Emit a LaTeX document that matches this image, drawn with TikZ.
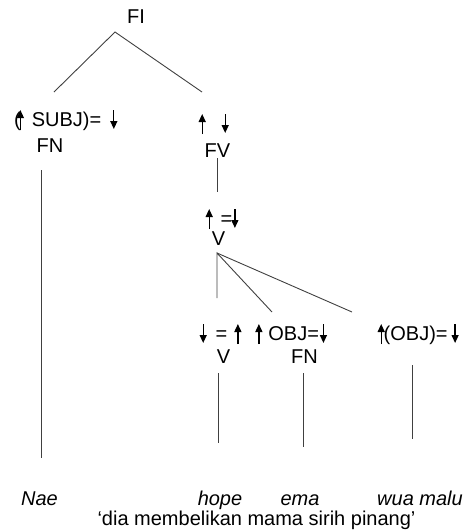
\documentclass[tikz,border=0pt]{standalone}
\usepackage{fontspec}
\setmainfont{Liberation Sans}
\usetikzlibrary{arrows.meta}
\newcommand{\ua}{\tikz[baseline=0pt]\draw[line width=1.3pt,-{Triangle[length=8pt,width=7pt]}] (0pt,-4pt) -- (0pt,16pt);}
\newcommand{\da}{\tikz[baseline=0pt]\draw[line width=1.3pt,-{Triangle[length=8pt,width=7pt]}] (0pt,16pt) -- (0pt,-3pt);}
\tikzset{
  lbl/.style={inner sep=0pt, font=\fontsize{20}{22}\selectfont},
  word/.style={inner sep=0pt, text height=14pt, text depth=3pt, font=\fontsize{20}{22}\selectfont\itshape},
  glossst/.style={inner sep=0pt, text height=13pt, text depth=4pt, font=\fontsize{20}{22}\selectfont},
  branch/.style={draw=black!75, line width=0.9pt},
}
\begin{document}
\begin{tikzpicture}[x=1pt,y=-1pt]
\useasboundingbox (0,0) rectangle (468,531);
% labels
\node[lbl, anchor=base] (fi) at (136,23) {FI};
\node[lbl, anchor=base west] (subj) at (14,126) {(\kern-4pt\ua\hspace{8pt}SUBJ)=\hspace{9pt}\da};
\node[lbl, anchor=base] (fn1) at (50,152) {FN};
\node[lbl, anchor=base west] (fvann) at (198.5,130) {\ua\hspace{16pt}\da};
\node[lbl, anchor=base] (fv) at (217.5,157) {FV};
\node[lbl, anchor=base west] (vann) at (205.5,225) {\ua\hspace{8pt}=\kern-1pt\da};
\node[lbl, anchor=base] (v1) at (218.5,245) {V};
\node[lbl, anchor=base west] (v2ann) at (199.5,340) {\da\hspace{9pt}=\hspace{7pt}\ua\hspace{14pt}\ua\hspace{6pt}OBJ=\kern1pt\da};
\node[lbl, anchor=base] (v2) at (223.5,363) {V};
\node[lbl, anchor=base] (fn2) at (304.5,363) {FN};
\node[lbl, anchor=base west] (objann) at (377.5,340) {\ua\kern-1pt(OBJ)=\kern4pt\da};
% words
\node[word, anchor=base] (nae) at (39.5,505) {Nae};
\node[word, anchor=base] (hope) at (220,505) {hope};
\node[word, anchor=base] (ema) at (300,505) {ema};
\node[word, anchor=base] (wua) at (420,505) {wua malu};
\node[glossst, anchor=base] (gloss) at (256.5,525) {‘dia membelikan mama sirih pinang’};
% branch points
\coordinate (fiapex) at (115,32);
\coordinate (subjtop) at (54,92);
\coordinate (fvtop) at (202,92);
\coordinate (fntop) at (41,170);
\coordinate (fnbot) at (41,458);
\coordinate (fvbot1) at (217,158);
\coordinate (fvbot2) at (217,192);
\coordinate (vapex) at (217,253);
\coordinate (vleft) at (217,298);
\coordinate (vmid) at (272,312);
\coordinate (vright) at (352,312);
\coordinate (v2top) at (218,373);
\coordinate (v2bot) at (218,443);
\coordinate (fn2top) at (303,373);
\coordinate (fn2bot) at (303,447);
\coordinate (objtop) at (412,365);
\coordinate (objbot) at (412,439);
% connectors
\draw[branch] (subjtop) -- (fiapex) -- (fvtop);
\draw[branch] (fntop) -- (fnbot);
\draw[branch] (fvbot1) -- (fvbot2);
\draw[branch] (vleft) -- (vapex) -- (vmid);
\draw[branch] (vapex) -- (vright);
\draw[branch] (v2top) -- (v2bot);
\draw[branch] (fn2top) -- (fn2bot);
\draw[branch] (objtop) -- (objbot);
\end{tikzpicture}
\end{document}
